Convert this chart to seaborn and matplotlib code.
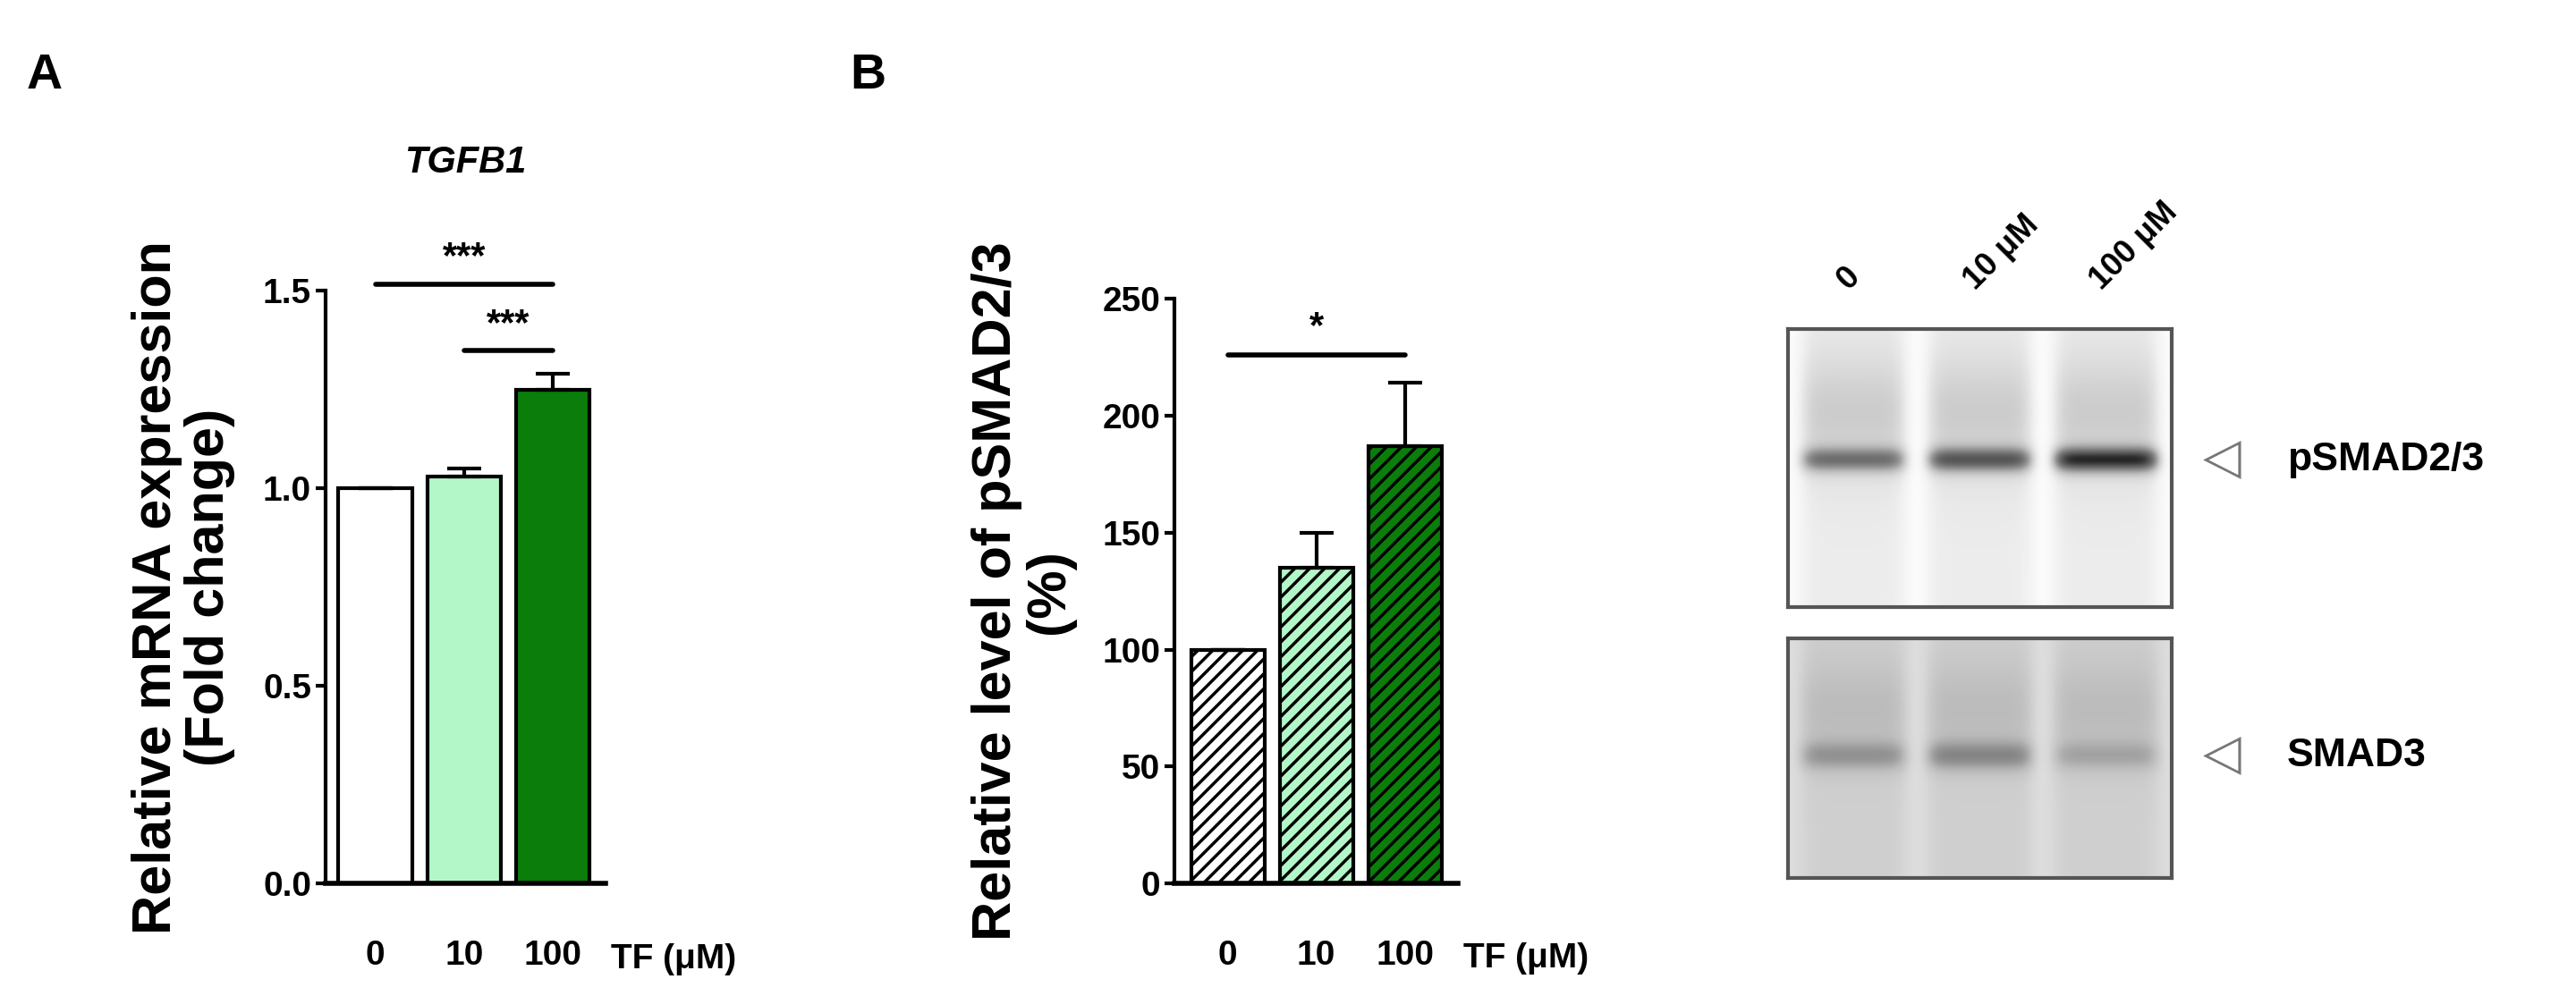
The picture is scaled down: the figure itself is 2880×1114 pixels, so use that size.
import numpy as np
import matplotlib
matplotlib.use("Agg")
import matplotlib.pyplot as plt
import seaborn as sns
import pandas as pd

sns.set_theme(style="ticks")
plt.rcParams['font.family'] = ['Liberation Sans', 'DejaVu Sans']
plt.rcParams['hatch.linewidth'] = 2.5
plt.rcParams['text.color'] = 'black'
plt.rcParams['axes.labelcolor'] = 'black'
plt.rcParams['xtick.color'] = 'black'
plt.rcParams['ytick.color'] = 'black'
plt.rcParams['axes.edgecolor'] = 'black'

# ---- data ----
doses = ["0", "10", "100"]
tgfb1_mean = [1.00, 1.03, 1.25]
tgfb1_err = [0.0, 0.02, 0.04]
psmad_mean = [100, 135, 187]
psmad_err = [0, 15, 27]
colors = ["#ffffff", "#b3f7c8", "#0a7d0a"]
blot_lanes = ["0", "10 μM", "100 μM"]
psmad_band = [0.45, 0.55, 0.7]
smad3_band = [0.2, 0.25, 0.14]

fig = plt.figure(figsize=(28.8, 11.14), dpi=100)
axA = fig.add_axes([0.1264, 0.113, 0.1086, 0.595])
axB = fig.add_axes([0.456, 0.113, 0.110, 0.587])

def panel(ax, vals, errs, hatch, xl):
    df = pd.DataFrame({"dose": doses, "val": vals})
    sns.barplot(data=df, x="dose", y="val", hue="dose", palette=colors, legend=False,
                ax=ax, width=0.83, edgecolor="black", linewidth=3, saturation=1)
    for p in ax.patches:
        if hatch:
            p.set_hatch("//")
    ax.errorbar(range(3), vals, yerr=[[0]*3, errs], fmt="none", ecolor="black",
                elinewidth=3, capsize=14, capthick=3)
    ax.set_xlim(*xl)
    for s in ["top", "right"]:
        ax.spines[s].set_visible(False)
    ax.spines["left"].set_linewidth(3)
    ax.spines["bottom"].set_linewidth(4)
    ax.tick_params(axis="y", width=3, length=8, labelsize=28)
    ax.tick_params(axis="x", length=0, labelsize=28, pad=45)
    for t in ax.get_xticklabels() + ax.get_yticklabels():
        t.set_fontweight("bold")
    ax.set_xlabel("")
    ax.text(1.02, -0.128, "TF (μM)", transform=ax.transAxes, fontsize=28,
            fontweight="bold", va="center", ha="left")

panel(axA, tgfb1_mean, tgfb1_err, False, (-0.56, 2.59))
axA.set_ylim(0, 1.5)
axA.set_yticks([0, 0.5, 1.0, 1.5])
axA.set_yticklabels(["0.0", "0.5", "1.0", "1.5"])
axA.set_ylabel("Relative mRNA expression\n(Fold change)", fontsize=44,
               fontweight="bold", labelpad=22, linespacing=1.05)
axA.set_title("TGFB1", fontsize=30, fontweight="bold", style="italic", pad=95)
axA.plot([0, 2], [1.516, 1.516], color="black", lw=4, clip_on=False)
axA.text(1.0, 1.54, "***", ha="center", va="bottom", fontsize=30, fontweight="bold")
axA.plot([1, 2], [1.35, 1.35], color="black", lw=4, clip_on=False)
axA.text(1.5, 1.37, "***", ha="center", va="bottom", fontsize=30, fontweight="bold")

panel(axB, psmad_mean, psmad_err, True, (-0.6, 2.6))
axB.set_ylim(0, 250)
axB.set_yticks([0, 50, 100, 150, 200, 250])
axB.set_ylabel("Relative level of pSMAD2/3\n(%)", fontsize=44,
               fontweight="bold", labelpad=22, linespacing=1.05)
axB.plot([0, 2], [226, 226], color="black", lw=4, clip_on=False)
axB.text(1.0, 230, "*", ha="center", va="bottom", fontsize=30, fontweight="bold")

fig.text(30/2880, 1-85/1114, "A", fontsize=40, fontweight="bold", va="center")
fig.text(950/2880, 1-85/1114, "B", fontsize=40, fontweight="bold", va="center")

# ---- blot images ----
def blot(bands, base, sharp, height, smear_amp):
    h, w = 200, 300
    yy = np.linspace(0, 1, h)[:, None]
    xx = np.linspace(0, 1, w)[None, :]
    img = np.full((h, w), base)
    centers = [0.17, 0.5, 0.83]
    for c, b in zip(centers, bands):
        lane = np.exp(-((xx - c) / 0.14) ** 8)
        smear = smear_amp * (0.6 + 0.8 * np.exp(-((yy - 0.3) / 0.22) ** 2))
        band = b * np.exp(-((yy - height) / sharp) ** 2)
        img = img + lane * (smear + band)
    return np.clip(img, 0, 1)

axT = fig.add_axes([1999/2880, 1-679/1114, 429/2880, 311/1114])
axT.imshow(blot(psmad_band, 0.03, 0.045, 0.47, 0.22), cmap="Greys", vmin=0, vmax=1.1,
           aspect="auto", interpolation="bicubic")
axD = fig.add_axes([1999/2880, 1-982/1114, 429/2880, 268/1114])
axD.imshow(blot(smad3_band, 0.25, 0.06, 0.49, 0.12), cmap="Greys", vmin=0, vmax=1.1,
           aspect="auto", interpolation="bicubic")
for a in (axT, axD):
    a.set_xticks([]); a.set_yticks([])
    for s in a.spines.values():
        s.set_linewidth(3); s.set_color("#555555")

for i, lab in enumerate(blot_lanes):
    axT.text(0.17 + 0.33 * i, 1.12, lab, transform=axT.transAxes, rotation=45,
             fontsize=26, fontweight="bold", ha="left", va="bottom",
             rotation_mode="anchor")

for a, lab, yy in ((axT, "pSMAD2/3", 0.53), (axD, "SMAD3", 0.51)):
    a.text(1.13, yy, "◁", transform=a.transAxes, fontsize=40,
           color="#777777", ha="center", va="center", family=["DejaVu Sans"])
    a.text(1.30, yy, lab, transform=a.transAxes, fontsize=32,
           fontweight="bold", ha="left", va="center")

fig.savefig("out.png", dpi=100)
